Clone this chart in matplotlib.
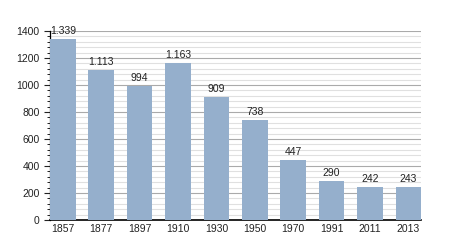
import matplotlib
matplotlib.use("Agg")
import matplotlib.pyplot as plt
from matplotlib.ticker import MultipleLocator

years = ["1857", "1877", "1897", "1910", "1930", "1950", "1970", "1991", "2011", "2013"]
population = [1339, 1113, 994, 1163, 909, 738, 447, 290, 242, 243]
value_labels = ["1.339", "1.113", "994", "1.163", "909", "738", "447", "290", "242", "243"]

plt.rcParams['font.family'] = ['Liberation Sans', 'DejaVu Sans']

fig = plt.figure(figsize=(4.5, 2.5), dpi=100)
ax = fig.add_axes([0.111, 0.12, 0.825, 0.756])

w = 0.668
x = list(range(len(years)))
ax.bar(x, population, width=w, color="#95afcc", zorder=3)
for xi, v, lab in zip(x, population, value_labels):
    ax.text(xi, v + 22, lab, ha="center", va="bottom", fontsize=7.5, color="#222222", clip_on=False, zorder=4)

ax.set_xlim(-w / 2, len(years) - 1 + w / 2)
ax.set_ylim(0, 1400)
ax.yaxis.set_major_locator(MultipleLocator(200))
ax.yaxis.set_minor_locator(MultipleLocator(40))
ax.grid(which="major", axis="y", color="#aaaaaa", linewidth=0.8, zorder=0)
ax.grid(which="minor", axis="y", color="#e0e0e0", linewidth=0.8, zorder=0)
ax.set_xticks(x)
ax.set_xticklabels(years)
ax.tick_params(axis="x", length=0, labelsize=7.5, pad=3, colors="#222222")
ax.tick_params(axis="y", which="major", length=4, width=0.8, labelsize=7.5, colors="#222222")
ax.tick_params(axis="y", which="minor", length=2, width=0.6)
for s in ["top", "right"]:
    ax.spines[s].set_visible(False)
ax.spines["left"].set_linewidth(0.9)
ax.spines["bottom"].set_linewidth(1.2)

fig.savefig("out.png", dpi=100, facecolor="white")
